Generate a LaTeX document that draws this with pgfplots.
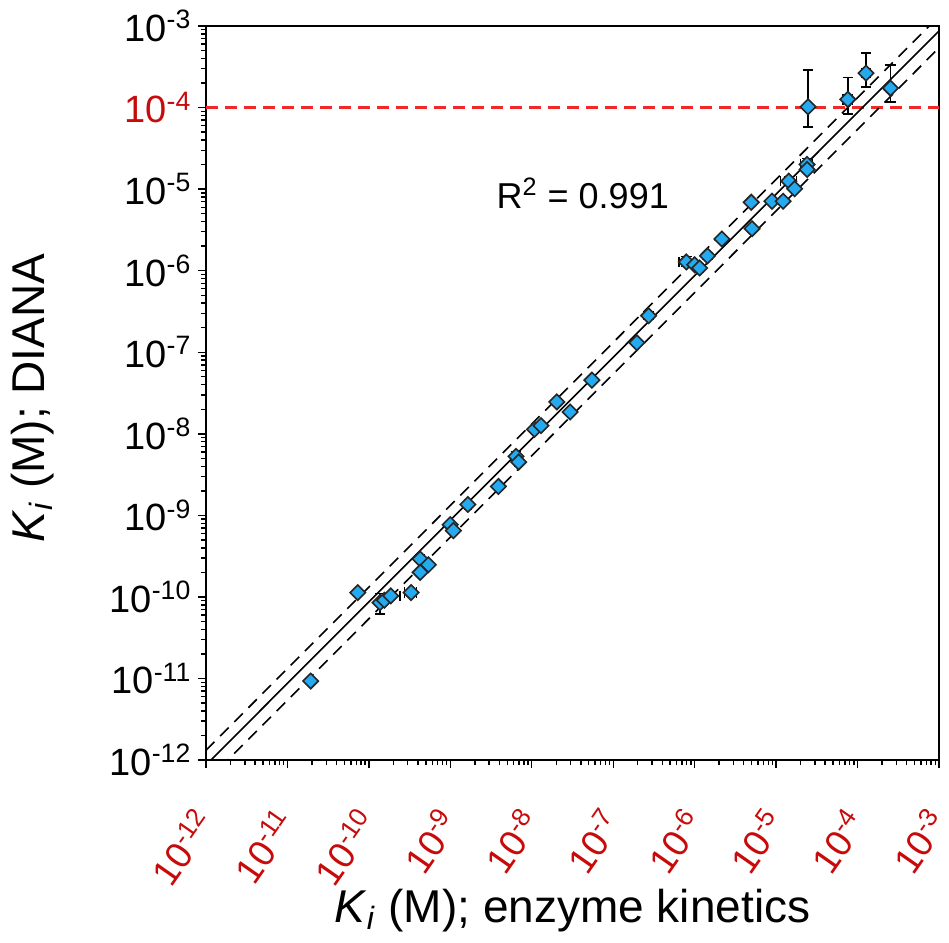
\documentclass[border=0pt]{standalone}
\usepackage{pgfplots}
\pgfplotsset{compat=1.18}
\usepackage{pgfplotstable}
\usepackage{fontspec}
\setmainfont{Liberation Sans}
\definecolor{ptblue}{RGB}{35,170,240}
\definecolor{lblred}{RGB}{200,10,10}
\definecolor{linered}{RGB}{240,40,40}

\pgfplotstableread{
x y exp exm eyp eym
1.93e-11 9.3e-12 0 0 0 0
7.3e-11 1.13e-10 4e-12 4e-12 0 0
1.37e-10 8.5e-11 0 0 2.5e-11 2.3e-11
1.55e-10 9.1e-11 0 0 0 0
1.86e-10 1.03e-10 5.6e-11 0 0 0
3.3e-10 1.13e-10 5.5e-11 5.5e-11 0 0
4.26e-10 2.92e-10 0 0 4e-11 0
5.38e-10 2.48e-10 0 0 0 0
4.26e-10 2.0e-10 0 0 0 0
9.95e-10 7.7e-10 0 0 0 0
1.09e-9 6.5e-10 0 0 0 0
1.64e-9 1.36e-9 1.5e-10 1.5e-10 0 0
3.9e-9 2.26e-9 0 0 0 0
6.4e-9 5.3e-9 0 0 8e-10 0
6.9e-9 4.5e-9 7e-10 7e-10 0 0
1.08e-8 1.13e-8 0 0 0 0
1.3e-8 1.26e-8 0 0 0 0
2.03e-8 2.46e-8 0 0 0 0
2.96e-8 1.85e-8 0 0 0 0
5.47e-8 4.55e-8 0 0 0 0
1.95e-7 1.31e-7 0 0 0 0
2.72e-7 2.81e-7 0 0 3.5e-8 3e-8
7.9e-7 1.28e-6 1.7e-7 1.5e-7 2e-7 1.6e-7
1.0e-6 1.18e-6 0 0 0 0
1.15e-6 1.08e-6 1.2e-7 1.2e-7 0 0
1.44e-6 1.52e-6 0 0 1.5e-7 1.5e-7
2.16e-6 2.45e-6 0 0 0 0
4.95e-6 6.9e-6 5e-7 5e-7 0 0
5.06e-6 3.27e-6 0 0 0 0
8.9e-6 7.1e-6 8e-7 8e-7 0 0
1.22e-5 7.1e-6 1.2e-6 1.2e-6 0 0
1.43e-5 1.25e-5 3.5e-6 3e-6 1.6e-6 1.4e-6
1.69e-5 1.01e-5 0 0 0 0
2.4e-5 2.01e-5 4e-6 4e-6 3.5e-6 3e-6
2.4e-5 1.74e-5 0 0 0 0
2.47e-5 1.02e-4 0 0 1.86e-4 4.4e-5
7.6e-5 1.26e-4 1e-5 1e-5 1.08e-4 4.3e-5
1.27e-4 2.64e-4 1.5e-5 1.5e-5 2.0e-4 8.5e-5
2.53e-4 1.73e-4 0 0 1.6e-4 5.6e-5
}\kidata

\begin{document}
\begin{tikzpicture}
\begin{axis}[
  scale only axis,
  width=366.5pt, height=367pt,
  xmode=log, ymode=log,
  xmin=1e-12, xmax=1e-3, ymin=1e-12, ymax=1e-3,
  axis line style={line width=1pt, black},
  tick align=outside,
  xtick pos=bottom, ytick pos=left,
  major tick length=3.8pt, minor tick length=2.5pt,
  every tick/.style={black, line width=0.7pt},
  xtick={1e-12,1e-11,1e-10,1e-9,1e-8,1e-7,1e-6,1e-5,1e-4,1e-3},
  ytick={1e-12,1e-11,1e-10,1e-9,1e-8,1e-7,1e-6,1e-5,1e-4,1e-3},
  xticklabels={10\textsuperscript{-12},10\textsuperscript{-11},10\textsuperscript{-10},10\textsuperscript{-9},10\textsuperscript{-8},10\textsuperscript{-7},10\textsuperscript{-6},10\textsuperscript{-5},10\textsuperscript{-4},10\textsuperscript{-3}},
  yticklabels={10\textsuperscript{-12},10\textsuperscript{-11},10\textsuperscript{-10},10\textsuperscript{-9},10\textsuperscript{-8},10\textsuperscript{-7},10\textsuperscript{-6},10\textsuperscript{-5},\textcolor{lblred}{10\textsuperscript{-4}},10\textsuperscript{-3}},
  xticklabel style={font=\fontsize{18.5}{22}\selectfont, text=lblred, xshift=1.6pt, yshift=-20.5pt, rotate=55, anchor=east},
  yticklabel style={font=\fontsize{19}{22}\selectfont},
  xlabel={\textit{K}\textsubscript{\textit{i}} (M); enzyme kinetics},
  ylabel={\textit{K}\textsubscript{\textit{i}} (M); DIANA},
  xlabel style={font=\fontsize{23}{27}\selectfont, at={(axis description cs:0.5,-0.205)}, anchor=center},
  ylabel style={font=\fontsize{23}{27}\selectfont, at={(axis description cs:-0.236,0.493)}, anchor=center},
  clip=true,
]
\addplot[color=linered, line width=1.1pt, dash pattern=on 6pt off 3.5pt] coordinates {(1e-12,1e-4) (1e-3,1e-4)};
\addplot[black, line width=0.8pt] coordinates {(1e-12,0.87e-12) (1e-3,0.87e-3)};
\addplot[black, line width=0.8pt, dash pattern=on 6pt off 4pt] coordinates {(1e-12,1.32e-12) (1e-3,1.32e-3)};
\addplot[black, line width=0.8pt, dash pattern=on 6pt off 4pt] coordinates {(1e-12,0.54e-12) (1e-3,0.54e-3)};
\addplot[only marks, mark=square*, mark size=2.7pt,
  mark options={rotate=45, fill=ptblue, draw=black!85, line width=0.8pt},
  error bars/.cd, x dir=both, x explicit, y dir=both, y explicit,
  error bar style={black, line width=0.7pt},
  error mark options={black, line width=0.7pt, mark size=2.6pt, rotate=90}]
  table[x=x, y=y, x error plus=exp, x error minus=exm, y error plus=eyp, y error minus=eym] {\kidata};
\node[font=\fontsize{18}{22}\selectfont, anchor=center] at (axis description cs:0.514,0.772) {R\textsuperscript{2} = 0.991};
\coordinate (bbsw) at (axis description cs:-0.281,-0.248);
\coordinate (bbne) at (axis description cs:1.0136,1.0354);
\end{axis}
\pgfresetboundingbox
\path[use as bounding box] (bbsw) rectangle (bbne);
\end{tikzpicture}
\end{document}
